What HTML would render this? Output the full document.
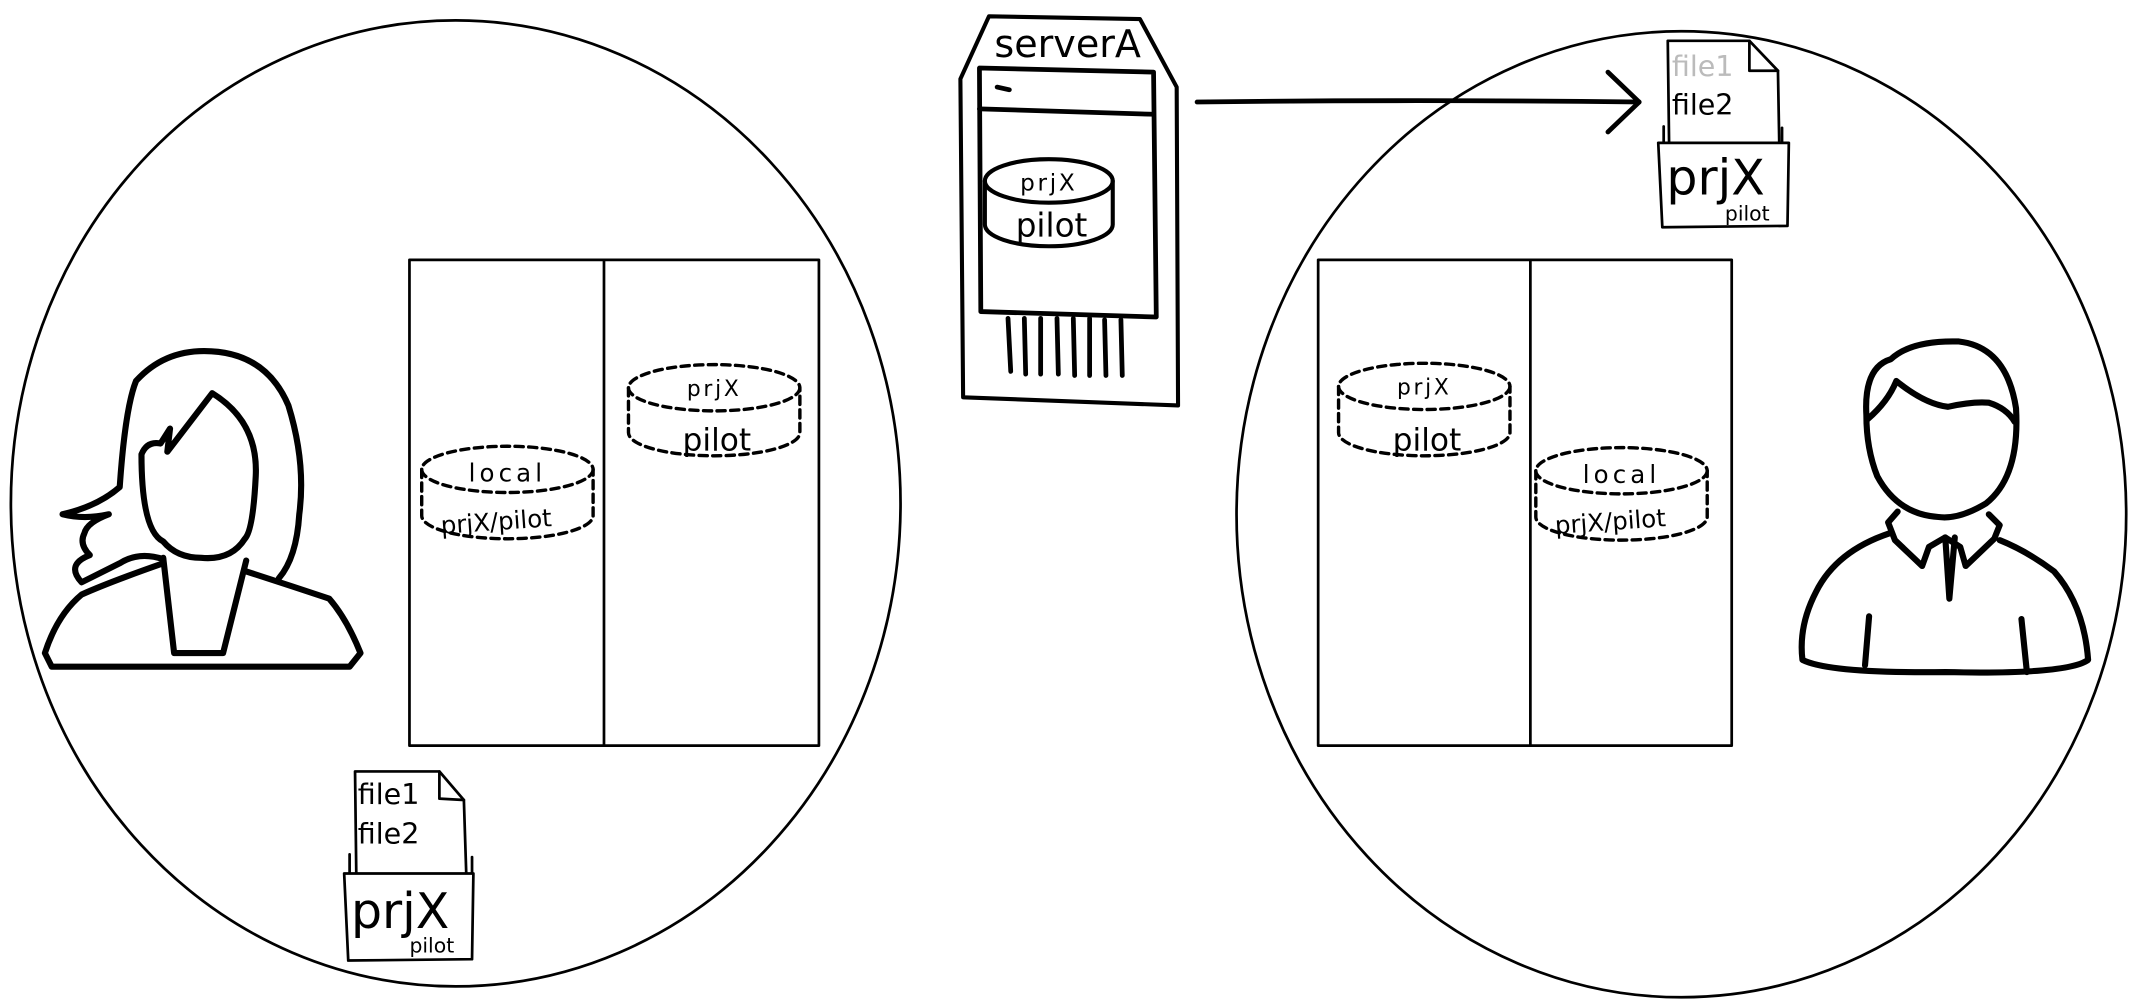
<!DOCTYPE html>
<html><head><meta charset="utf-8"><style>
html,body{margin:0;padding:0;background:#fff;}
svg{display:block;}
text{font-family:"DejaVu Sans","Liberation Sans",sans-serif;fill:#000;}
</style></head><body>
<svg width="2133" height="1000" viewBox="0 0 1568 735" preserveAspectRatio="none" xmlns="http://www.w3.org/2000/svg">
<g fill="none" stroke="#000" stroke-linecap="round" stroke-linejoin="round">
<ellipse cx="335" cy="370" rx="327" ry="355" stroke-width="2"/>
<ellipse cx="1236" cy="378" rx="327" ry="355" stroke-width="2"/>
<rect x="301" y="191" width="301" height="357" stroke-width="2"/>
<line x1="444" y1="191" x2="444" y2="548" stroke-width="2"/>
<rect x="969" y="191" width="304" height="357" stroke-width="2"/>
<line x1="1125" y1="191" x2="1125" y2="548" stroke-width="2"/>
<g stroke-width="2.5" stroke-dasharray="6,4">
<ellipse cx="373" cy="345" rx="63" ry="17"/>
<path d="M310 345 V379 A63 17 0 0 0 436 379 V345"/>
<ellipse cx="525" cy="285" rx="63" ry="17"/>
<path d="M462 285 V318 A63 17 0 0 0 588 318 V285"/>
<ellipse cx="1047" cy="284" rx="63" ry="17"/>
<path d="M984 284 V318 A63 17 0 0 0 1110 318 V284"/>
<ellipse cx="1192" cy="346" rx="63" ry="17"/>
<path d="M1129 346 V380 A63 17 0 0 0 1255 380 V346"/>
</g>
<path d="M727 12 L838 14 L865 64 L866 298 L708 292 L706 58 Z" stroke-width="3"/>
<path d="M720 50 L848 53 L850 233 L721 229 Z" stroke-width="3.5"/>
<path d="M720 80 L848 84" stroke-width="3.5"/>
<path d="M733 64 L742 66" stroke-width="3.5"/>
<ellipse cx="771" cy="133" rx="47" ry="16" stroke-width="3"/>
<path d="M724 133 V165 A47 16 0 0 0 818 165 V133" stroke-width="3"/>
<g stroke-width="3.5">
<line x1="741" y1="234" x2="743" y2="273"/><line x1="753" y1="234" x2="754" y2="275"/>
<line x1="765" y1="234" x2="765" y2="275"/><line x1="777" y1="234" x2="778" y2="275"/>
<line x1="789" y1="234" x2="790" y2="276"/><line x1="801" y1="234" x2="801" y2="276"/>
<line x1="812" y1="235" x2="813" y2="276"/><line x1="824" y1="235" x2="825" y2="276"/>
</g>
<path d="M880 75 Q1040 73 1205 75" stroke-width="3.5"/>
<path d="M1182 53 L1205 75 L1182 97" stroke-width="3.5"/>
<path d="M1226 30 L1286 30 L1307 52 L1308 108 L1227 108 Z" stroke-width="2"/>
<path d="M1286 30 L1286 52 L1307 52" stroke-width="2"/>
<path d="M1223 110 L1223 93 M1310 110 L1310 94" stroke-width="2"/>
<path d="M1219 105 L1315 105 L1314 166 L1222 167 Z" stroke-width="2" fill="#fff"/>
<path d="M261 567 L323 567 L341 588 L343 650 L262 650 Z" stroke-width="2"/>
<path d="M323 567 L323 587 L341 588" stroke-width="2"/>
<path d="M257 650 L257 628 M347 650 L347 630" stroke-width="2"/>
<path d="M253 642 L348 642 L347 705 L256 706 Z" stroke-width="2" fill="#fff"/>
<g stroke-width="4.5">
<path d="M120 411 Q102 405 88 414 Q70 423 60 428 Q48 415 66 408 Q58 400 62 392 Q64 384 80 378 Q62 382 46 378 Q72 372 88 358 Q92 300 100 280 Q120 258 150 258 Q195 258 212 298 Q225 340 220 378 Q218 410 205 425"/>
<path d="M104 334 Q108 324 118 326 L125 315 L123 332 L156 289 Q190 310 188 350 Q186 390 180 396 Q170 412 148 410 Q130 410 120 398 Q104 390 104 334 Z"/>
<path d="M120 410 L128 480 L164 480 L181 412"/>
<path d="M120 414 Q80 428 60 437 Q42 452 33 480 L38 490 L257 490 L265 480 Q255 455 242 440 Q212 430 181 420"/>
</g>
<g stroke-width="4.5">
<path d="M1372 305 Q1370 270 1390 264 Q1405 250 1440 251 Q1475 255 1482 300 Q1485 350 1460 370 Q1440 382 1425 380 Q1395 378 1380 350 Q1372 330 1372 305 Z"/>
<path d="M1373 308 Q1388 295 1394 280 Q1415 297 1432 299 Q1450 295 1462 296 Q1475 300 1481 310"/>
<path d="M1395 376 L1388 384 L1393 397 L1413 416 L1418 402 L1430 395 L1441 402 L1445 416 L1466 396 L1470 386 L1462 378"/>
<path d="M1430 395 L1433 440 L1437 395"/>
<path d="M1389 392 Q1350 405 1335 435 Q1322 460 1325 485 Q1345 495 1430 494 Q1520 496 1535 485 Q1532 445 1510 420 Q1490 405 1470 397"/>
<path d="M1374 453 L1371 489 M1486 455 L1490 494"/>
</g>
</g>
<text x="771" y="140" font-size="17" text-anchor="middle" letter-spacing="2">prjX</text>
<text x="731" y="42" font-size="28">serverA</text>
<text x="773" y="174" font-size="24" text-anchor="middle">pilot</text>
<text x="373" y="354" font-size="18" text-anchor="middle" letter-spacing="3">local</text>
<text x="324" y="389" font-size="18" transform="rotate(-4 373 384)">prjX/pilot</text>
<text x="525" y="291" font-size="16" text-anchor="middle" letter-spacing="2">prjX</text>
<text x="527" y="331" font-size="23" text-anchor="middle">pilot</text>
<text x="1047" y="290" font-size="16" text-anchor="middle" letter-spacing="2">prjX</text>
<text x="1049" y="331" font-size="23" text-anchor="middle">pilot</text>
<text x="1192" y="355" font-size="18" text-anchor="middle" letter-spacing="3">local</text>
<text x="1143" y="389" font-size="18" transform="rotate(-4 1192 384)">prjX/pilot</text>
<text x="1229" y="56" font-size="21" style="fill:#bbb">file1</text>
<text x="1229" y="84" font-size="21">file2</text>
<text x="1225" y="143" font-size="36">prjX</text>
<text x="1268" y="162" font-size="15">pilot</text>
<text x="263" y="591" font-size="21">file1</text>
<text x="263" y="620" font-size="21">file2</text>
<text x="258" y="682" font-size="36">prjX</text>
<text x="301" y="700" font-size="15">pilot</text>
</svg>
</body></html>
